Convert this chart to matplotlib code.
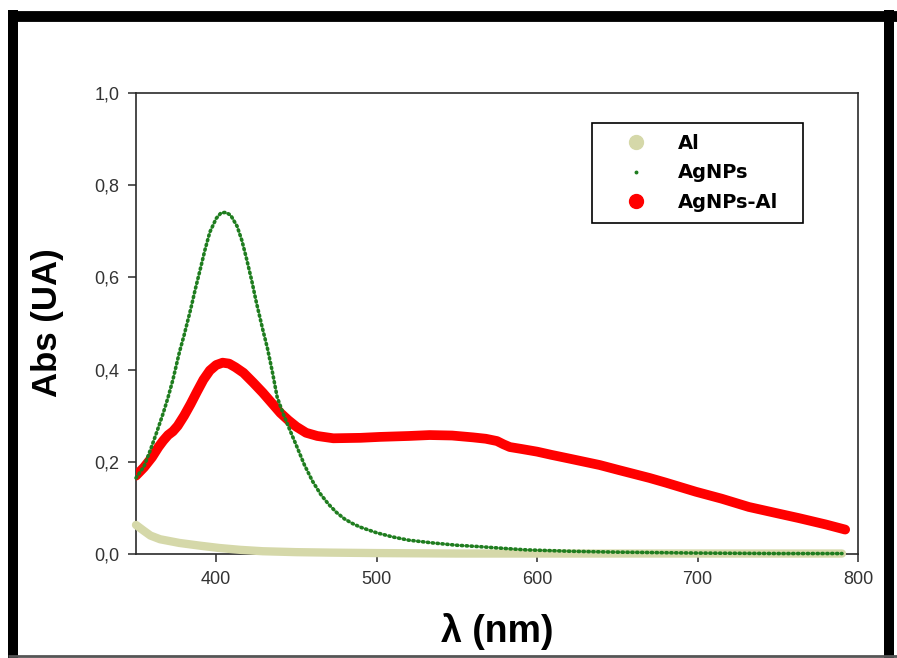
import matplotlib
matplotlib.use("Agg")
import matplotlib.pyplot as plt
from matplotlib.lines import Line2D

# ---- data ----
red_wl = [350, 355, 360, 364, 367, 370, 373, 376, 380, 384, 388, 392, 396, 400, 404,
          408, 412, 417, 423, 429, 435, 440, 445, 450, 456, 463, 473, 490, 502, 520,
          533, 547, 560, 568, 575, 579, 583, 590, 600, 609, 620, 639, 651, 670, 680,
          699, 715, 732, 750, 763, 780, 792]
red_abs = [0.170, 0.188, 0.210, 0.232, 0.246, 0.258, 0.266, 0.278, 0.300, 0.325, 0.352,
           0.378, 0.398, 0.410, 0.415, 0.413, 0.405, 0.393, 0.372, 0.350, 0.326, 0.306,
           0.290, 0.276, 0.263, 0.256, 0.251, 0.252, 0.254, 0.256, 0.258, 0.257, 0.253,
           0.250, 0.245, 0.238, 0.232, 0.228, 0.222, 0.215, 0.207, 0.193, 0.182, 0.165,
           0.155, 0.135, 0.120, 0.102, 0.088, 0.078, 0.064, 0.053]

green_wl = [350, 355, 359, 363, 367, 370, 373, 377, 380, 384, 387, 390, 393, 396, 400,
            403, 406, 409, 413, 416, 419, 422, 425, 429, 432, 435, 438, 442, 446, 450,
            455, 460, 465, 470, 475, 480, 485, 490, 500, 510, 520, 535, 550, 564, 580,
            593, 620, 650, 700, 750, 790]
green_abs = [0.165, 0.190, 0.226, 0.265, 0.306, 0.340, 0.378, 0.437, 0.475, 0.530, 0.575,
             0.617, 0.660, 0.698, 0.728, 0.740, 0.741, 0.735, 0.711, 0.680, 0.639, 0.595,
             0.546, 0.487, 0.445, 0.395, 0.340, 0.302, 0.268, 0.235, 0.193, 0.158, 0.130,
             0.108, 0.090, 0.076, 0.066, 0.058, 0.046, 0.037, 0.030, 0.024, 0.019, 0.016,
             0.012, 0.009, 0.006, 0.004, 0.002, 0.001, 0.001]

al_wl = [350, 355, 359, 365, 377, 390, 402, 415, 429, 450, 471, 500, 550, 600, 650, 700,
         750, 790]
al_abs = [0.063, 0.050, 0.040, 0.032, 0.024, 0.018, 0.013, 0.009, 0.006, 0.004, 0.003,
          0.002, 0.001, 0.001, 0.001, 0.001, 0.001, 0.001]

series_labels = ["Al", "AgNPs", "AgNPs-Al"]
x_ticks = [400, 500, 600, 700, 800]
y_ticks = [0.0, 0.2, 0.4, 0.6, 0.8, 1.0]
y_tick_labels = ["0,0", "0,2", "0,4", "0,6", "0,8", "1,0"]

# ---- figure ----
W, H = 897, 658
fig = plt.figure(figsize=(W / 100, H / 100), dpi=100)
fig.patch.set_facecolor("white")

L, R, B, T = 136, 858, 554, 93
ax = fig.add_axes([L / W, 1 - B / H, (R - L) / W, (B - T) / H])

c_al = "#d5d8a9"
c_green = "#1f7d1f"
c_red = "#ff0000"

ax.plot(al_wl, al_abs, color=c_al, lw=6, solid_capstyle="round", zorder=3, clip_on=False)
ax.plot(red_wl, red_abs, color=c_red, lw=7, solid_capstyle="round",
        solid_joinstyle="round", zorder=4)
ax.plot(green_wl, green_abs, color=c_green, lw=2.6, linestyle=(0, (0.35, 1.0)),
        dash_capstyle="round", zorder=5, clip_on=False)

ax.set_xlim(350, 800)
ax.set_ylim(0, 1.0)
ax.set_xticks(x_ticks)
ax.set_yticks(y_ticks)
ax.set_yticklabels(y_tick_labels)

for s in ax.spines.values():
    s.set_linewidth(1.2)
    s.set_color("#2a2a2a")

ax.tick_params(direction="out", length=6, width=1.1, color="#2a2a2a",
               labelsize=13, labelcolor="#333333", pad=6)
for lab in ax.get_xticklabels() + ax.get_yticklabels():
    lab.set_fontfamily("Liberation Sans")

ax.set_ylabel("Abs (UA)", fontsize=25, fontweight="bold", family="Liberation Sans",
              ha="center", va="center")
ax.yaxis.set_label_coords(-0.123, 0.501)
ax.set_xlabel("λ (nm)", fontsize=27, fontweight="bold", family="Liberation Sans",
              ha="center", va="center")
ax.xaxis.set_label_coords(0.5, -0.169)

handles = [
    Line2D([], [], ls="none", marker="o", ms=10, color=c_al, mec=c_al),
    Line2D([], [], ls="none", marker="o", ms=1.8, color=c_green, mec=c_green),
    Line2D([], [], ls="none", marker="o", ms=10, color=c_red, mec=c_red),
]
leg = ax.legend(handles, series_labels, loc="upper left", mode="expand",
                bbox_to_anchor=(592 / W, 1 - 219 / H, 211 / W, 96 / H),
                bbox_transform=fig.transFigure,
                borderaxespad=0, fancybox=False, framealpha=1, edgecolor="black",
                prop={"family": "DejaVu Sans", "weight": "bold", "size": 14},
                handlelength=3.4, handletextpad=0.45, labelspacing=0.55, borderpad=0.55)
leg.get_frame().set_linewidth(1.2)

# ---- screenshot-like outer frame ----
def fl(x0, y0, x1, y1, lw, color):
    fig.add_artist(Line2D([x0 / W, x1 / W], [1 - y0 / H, 1 - y1 / H], lw=lw,
                          color=color, transform=fig.transFigure, solid_capstyle="butt"))

fl(13, 10, 13, 658, 7.2, "black")
fl(8, 15.5, 897, 15.5, 7.8, "black")
fl(889, 10, 889, 658, 7.2, "black")
fl(8, 656, 897, 656, 2.0, "#555555")

fig.savefig("out.png", dpi=100, facecolor="white")
